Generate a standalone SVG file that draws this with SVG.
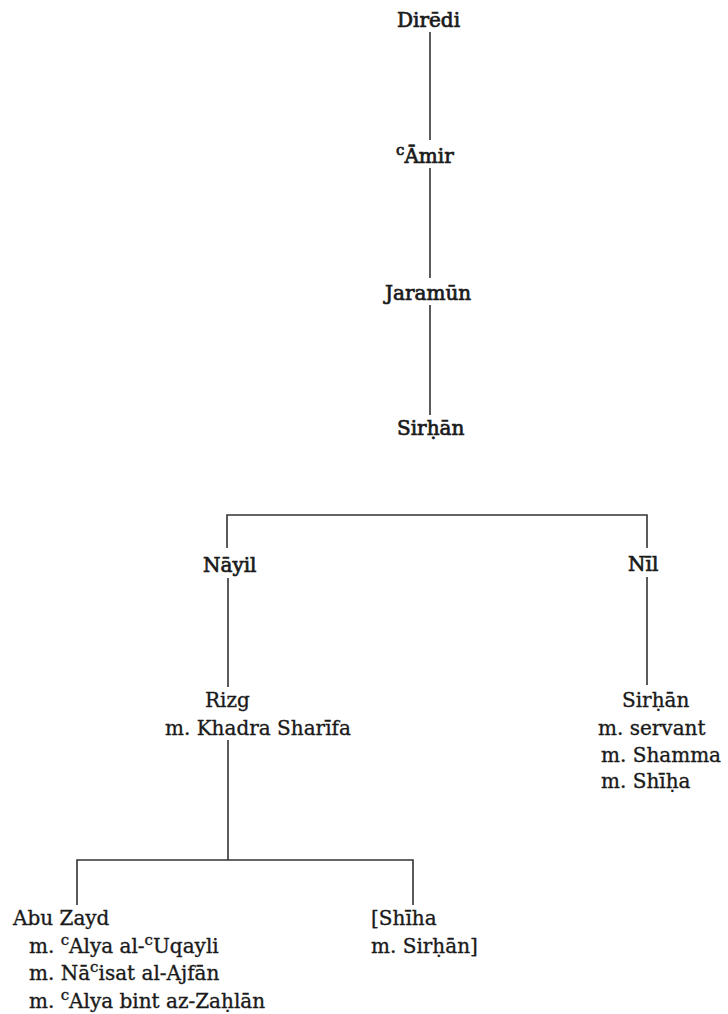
<svg xmlns="http://www.w3.org/2000/svg" width="728" height="1014" viewBox="0 0 728 1014">
<style>
  text { font-family: "DejaVu Serif", "Liberation Serif", serif; font-size: 20px; fill: #1a1a1a; stroke: #1a1a1a; stroke-width: 0.35; }
  .b { stroke-width: 0.7; }
  .sup { font-size: 15px; }
  .ln { stroke: #333; stroke-width: 1.6; fill: none; }
</style>
<rect width="728" height="1014" fill="#fff"/>
<g id="connectors">
  <line class="ln" x1="430" y1="32" x2="430" y2="140"/>
  <line class="ln" x1="430" y1="168" x2="430" y2="278"/>
  <line class="ln" x1="430" y1="305" x2="430" y2="415"/>
  <polyline class="ln" points="227,548 227,515 647,515 647,548"/>
  <line class="ln" x1="228" y1="578" x2="228" y2="687"/>
  <line class="ln" x1="647" y1="577" x2="647" y2="685"/>
  <line class="ln" x1="228" y1="740" x2="228" y2="860"/>
  <polyline class="ln" points="77,905 77,860 413,860 413,905"/>
</g>
<g id="n-diredi"><text class="b" x="397" y="27">Dirēdi</text></g>
<g id="n-amir"><text class="b" x="396" y="163"><tspan class="sup" dy="-8">c</tspan><tspan dy="8">Āmir</tspan></text></g>
<g id="n-jaramun"><text class="b" x="385" y="300">Jaramūn</text></g>
<g id="n-sirhan1"><text class="b" x="397" y="435">Sirḥān</text></g>
<g id="n-nayil"><text class="b" x="203" y="572">Nāyil</text></g>
<g id="n-nil"><text class="b" x="628" y="571">Nīl</text></g>
<g id="n-rizg">
  <text x="205" y="707">Rizg</text>
  <text x="165" y="735">m. Khadra Sharīfa</text>
</g>
<g id="n-sirhan2">
  <text x="622" y="707">Sirḥān</text>
  <text x="598" y="735">m. servant</text>
  <text x="601" y="762">m. Shamma</text>
  <text x="601" y="788">m. Shīḥa</text>
</g>
<g id="n-abuzayd">
  <text x="13" y="925">Abu Zayd</text>
  <text x="29" y="953">m. <tspan class="sup" dy="-8">c</tspan><tspan dy="8">Alya al-</tspan><tspan class="sup" dy="-8">c</tspan><tspan dy="8">Uqayli</tspan></text>
  <text x="29" y="980">m. Nā<tspan class="sup" dy="-8">c</tspan><tspan dy="8">isat al-Ajfān</tspan></text>
  <text x="29" y="1008">m. <tspan class="sup" dy="-8">c</tspan><tspan dy="8">Alya bint az-Zaḥlān</tspan></text>
</g>
<g id="n-shiha">
  <text x="371" y="925">[Shīha</text>
  <text x="371" y="953">m. Sirḥān]</text>
</g>
</svg>
